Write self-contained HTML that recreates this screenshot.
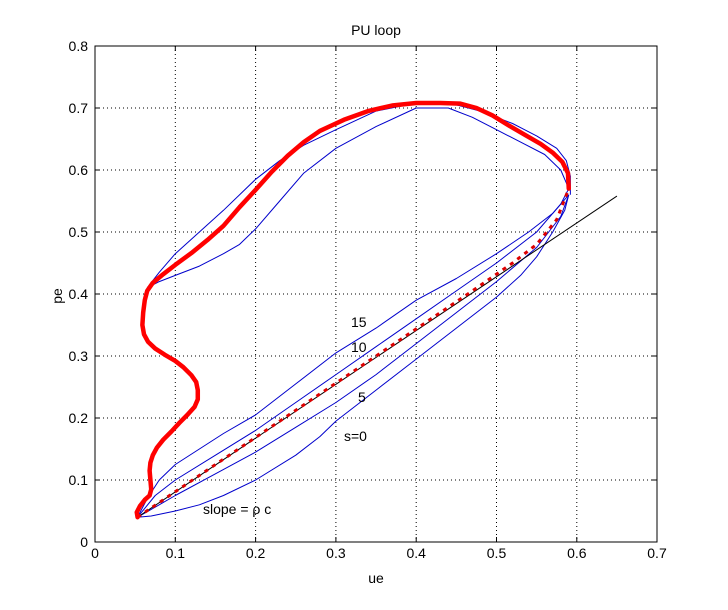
<!DOCTYPE html>
<html><head><style>body{margin:0;background:#fff}svg{display:block}text{font-family:"Liberation Sans",sans-serif;font-size:14px;fill:#000}</style></head><body>
<svg width="728" height="610" viewBox="0 0 728 610">
<rect width="728" height="610" fill="#fff"/>
<g stroke="#000" stroke-width="1" stroke-dasharray="1,3">
<line x1="175.3" y1="46" x2="175.3" y2="542"/><line x1="255.6" y1="46" x2="255.6" y2="542"/><line x1="335.9" y1="46" x2="335.9" y2="542"/><line x1="416.2" y1="46" x2="416.2" y2="542"/><line x1="496.5" y1="46" x2="496.5" y2="542"/><line x1="576.8" y1="46" x2="576.8" y2="542"/>
<line x1="95" y1="480" x2="657" y2="480"/><line x1="95" y1="418" x2="657" y2="418"/><line x1="95" y1="356" x2="657" y2="356"/><line x1="95" y1="294" x2="657" y2="294"/><line x1="95" y1="232" x2="657" y2="232"/><line x1="95" y1="170" x2="657" y2="170"/><line x1="95" y1="108" x2="657" y2="108"/>
</g>
<g transform="translate(95,542) scale(803,-620)" fill="none" stroke-linejoin="round">
<g stroke="#0000cc" stroke-width="1">
<polyline vector-effect="non-scaling-stroke" points="0.053,0.04 0.07,0.042 0.1,0.05 0.13,0.06 0.16,0.075 0.2,0.1 0.25,0.14 0.28,0.17 0.3,0.195 0.35,0.245 0.4,0.295 0.45,0.345 0.5,0.395 0.53,0.43 0.55,0.46 0.57,0.5 0.585,0.535 0.59,0.56"/>
<polyline vector-effect="non-scaling-stroke" points="0.053,0.04 0.08,0.06 0.1,0.075 0.15,0.11 0.2,0.145 0.25,0.185 0.3,0.225 0.35,0.27 0.4,0.32 0.45,0.37 0.5,0.42 0.55,0.475 0.58,0.525 0.59,0.56"/>
<polyline vector-effect="non-scaling-stroke" points="0.053,0.04 0.075,0.075 0.1,0.1 0.15,0.14 0.2,0.18 0.25,0.225 0.3,0.27 0.35,0.315 0.4,0.36 0.45,0.405 0.5,0.45 0.55,0.5 0.58,0.545 0.59,0.57"/>
<polyline vector-effect="non-scaling-stroke" points="0.053,0.04 0.065,0.07 0.08,0.1 0.1,0.125 0.13,0.15 0.16,0.175 0.2,0.205 0.25,0.255 0.3,0.305 0.35,0.345 0.4,0.39 0.45,0.425 0.5,0.465 0.54,0.5 0.57,0.53 0.59,0.56"/>
<polyline vector-effect="non-scaling-stroke" points="0.065,0.41 0.08,0.435 0.1,0.465 0.13,0.5 0.16,0.535 0.2,0.585 0.23,0.615 0.26,0.64 0.3,0.665 0.35,0.695 0.4,0.708 0.45,0.705 0.48,0.695 0.52,0.675 0.55,0.655 0.575,0.635 0.587,0.615 0.592,0.59 0.592,0.56"/>
<polyline vector-effect="non-scaling-stroke" points="0.065,0.41 0.08,0.42 0.1,0.43 0.13,0.445 0.16,0.465 0.18,0.48 0.2,0.505 0.23,0.55 0.26,0.595 0.3,0.635 0.35,0.67 0.4,0.7 0.44,0.7 0.47,0.685 0.5,0.665 0.53,0.645 0.56,0.625 0.58,0.6 0.59,0.57"/>
</g>
<line vector-effect="non-scaling-stroke" x1="0.053" y1="0.04" x2="0.65" y2="0.558" stroke="#000" stroke-width="1"/>
<polyline vector-effect="non-scaling-stroke" stroke="#dd0000" stroke-width="3" stroke-dasharray="4,5" points="0.053,0.04 0.47,0.405 0.52,0.45 0.55,0.48 0.575,0.52 0.59,0.57"/>
<polyline vector-effect="non-scaling-stroke" stroke="#ff0000" stroke-width="4.5" stroke-linecap="round" points="0.59,0.57 0.589,0.595 0.582,0.613 0.57,0.628 0.555,0.642 0.535,0.657 0.515,0.672 0.495,0.688 0.475,0.7 0.455,0.707 0.43,0.708 0.4,0.708 0.37,0.704 0.34,0.695 0.31,0.681 0.28,0.663 0.26,0.645 0.24,0.623 0.22,0.597 0.2,0.568 0.18,0.54 0.16,0.51 0.14,0.487 0.12,0.466 0.1,0.447 0.085,0.432 0.072,0.418 0.065,0.405 0.062,0.39 0.06,0.37 0.059,0.35 0.061,0.335 0.066,0.323 0.075,0.312 0.087,0.302 0.1,0.292 0.11,0.282 0.12,0.269 0.126,0.258 0.128,0.245 0.128,0.23 0.124,0.218 0.115,0.205 0.105,0.192 0.095,0.178 0.085,0.165 0.077,0.152 0.072,0.14 0.069,0.128 0.068,0.115 0.069,0.1 0.07,0.085 0.068,0.075 0.062,0.068 0.056,0.058 0.052,0.048 0.053,0.04"/>
</g>
<rect x="95" y="46" width="562" height="496" fill="none" stroke="#000" stroke-width="1"/>
<g stroke="#000">
<line x1="175.3" y1="542" x2="175.3" y2="537"/><line x1="255.6" y1="542" x2="255.6" y2="537"/><line x1="335.9" y1="542" x2="335.9" y2="537"/><line x1="416.2" y1="542" x2="416.2" y2="537"/><line x1="496.5" y1="542" x2="496.5" y2="537"/><line x1="576.8" y1="542" x2="576.8" y2="537"/>
<line x1="175.3" y1="46" x2="175.3" y2="51"/><line x1="255.6" y1="46" x2="255.6" y2="51"/><line x1="335.9" y1="46" x2="335.9" y2="51"/><line x1="416.2" y1="46" x2="416.2" y2="51"/><line x1="496.5" y1="46" x2="496.5" y2="51"/><line x1="576.8" y1="46" x2="576.8" y2="51"/>
<line x1="95" y1="480" x2="100" y2="480"/><line x1="95" y1="418" x2="100" y2="418"/><line x1="95" y1="356" x2="100" y2="356"/><line x1="95" y1="294" x2="100" y2="294"/><line x1="95" y1="232" x2="100" y2="232"/><line x1="95" y1="170" x2="100" y2="170"/><line x1="95" y1="108" x2="100" y2="108"/>
<line x1="657" y1="480" x2="652" y2="480"/><line x1="657" y1="418" x2="652" y2="418"/><line x1="657" y1="356" x2="652" y2="356"/><line x1="657" y1="294" x2="652" y2="294"/><line x1="657" y1="232" x2="652" y2="232"/><line x1="657" y1="170" x2="652" y2="170"/><line x1="657" y1="108" x2="652" y2="108"/>
</g>
<g text-anchor="middle">
<text x="95" y="558">0</text><text x="175.3" y="558">0.1</text><text x="255.6" y="558">0.2</text><text x="335.9" y="558">0.3</text><text x="416.2" y="558">0.4</text><text x="496.5" y="558">0.5</text><text x="576.8" y="558">0.6</text><text x="657" y="558">0.7</text>
<text x="376" y="583">ue</text><text x="376" y="35">PU loop</text>
</g>
<g text-anchor="end">
<text x="88" y="547">0</text><text x="88" y="485">0.1</text><text x="88" y="423">0.2</text><text x="88" y="361">0.3</text><text x="88" y="299">0.4</text><text x="88" y="237">0.5</text><text x="88" y="175">0.6</text><text x="88" y="113">0.7</text><text x="88" y="51">0.8</text>
</g>
<text x="62" y="296" transform="rotate(-90 62 296)" text-anchor="middle">pe</text>
<text x="351" y="327">15</text><text x="351" y="352">10</text><text x="358" y="402">5</text><text x="344" y="441">s=0</text>
<text x="203" y="514">slope = ρ c</text>
</svg>
</body></html>
